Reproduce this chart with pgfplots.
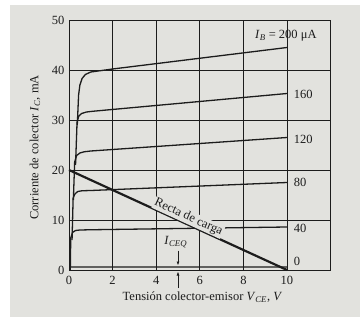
\documentclass[border=0pt]{standalone}
\usepackage{fontspec}
\setmainfont{Liberation Serif}
\usepackage{pgfplots}
\pgfplotsset{compat=1.18}
\usetikzlibrary{arrows.meta}
\definecolor{paper}{RGB}{226,226,222}
\definecolor{ink}{RGB}{28,28,28}
\tikzset{curve/.style={ink, line width=1.3pt, line join=round, mark=none}}
\begin{document}
\begin{tikzpicture}[font=\fontsize{12.5}{14}\selectfont, x=1pt, y=1pt]
\path[use as bounding box] (-69,-47) rectangle (291,270);
\fill[white] (-69,-47) rectangle (291,270);
\fill[paper] (-59,-47) rectangle (291,265);
\begin{axis}[
  at={(0,0)}, anchor=south west,
  scale only axis, width=261.6pt, height=250pt,
  xmin=0, xmax=12, ymin=0, ymax=50,
  xtick={0,2,4,6,8,10}, ytick={0,10,20,30,40,50},
  major tick length=0pt,
  grid=major,
  grid style={ink, line width=0.6pt},
  axis line style={ink, line width=0.8pt},
  /pgf/number format/assume math mode=true,
  xticklabel style={yshift=-3pt, text=ink},
  yticklabel style={xshift=-1pt, text=ink},
  every axis x label/.style={at={(axis description cs:0.51,-0.108)}, anchor=center, text=ink},
  every axis y label/.style={at={(axis description cs:-0.13,0.49)}, rotate=90, anchor=center, text=ink},
  xlabel={Tensión colector-emisor \textit{V}\textsubscript{\textit{CE}}, \textit{V}},
  ylabel={Corriente de colector \textit{I}\textsubscript{\textit{C}}, mA},
  clip=false,
]
% IB = 0
\addplot[curve] coordinates {(0.04,0) (0.05,0.6) (0.3,0.6) (10,0.6)};
% IB = 40
\addplot[curve] coordinates {(0.06,0) (0.08,6.4) (0.16,7.5) (0.3,7.9) (0.5,8.0) (1,8.05) (10,8.6)};
% IB = 80
\addplot[curve] coordinates {(0.14,6) (0.19,14.4) (0.27,15.2) (0.4,15.7) (0.6,15.85) (1,15.9) (10,17.5)};
% IB = 120
\addplot[curve] coordinates {(0.2,14) (0.26,21.6) (0.35,22.9) (0.5,23.4) (0.7,23.65) (1,23.8) (10,26.5)};
% IB = 160
\addplot[curve] coordinates {(0.3,21) (0.37,29.6) (0.45,30.8) (0.58,31.3) (0.8,31.6) (1.1,31.75) (10,35.3)};
% IB = 200
\addplot[curve] coordinates {(0.38,29) (0.44,35) (0.5,37) (0.6,38.3) (0.75,39.1) (1,39.6) (1.5,39.9) (2,40.2) (10,44.5)};
% load line
\addplot[ink, line width=2.2pt, mark=none] coordinates {(0,20) (10,0)};
\node[rotate=-24.6, anchor=south, fill=paper, inner sep=1pt, text=ink] at (axis cs:5.35,9.3) {Recta de carga};
\node[anchor=west, text=ink] at (axis cs:10.15,1.8) {0};
\node[anchor=west, text=ink] at (axis cs:10.15,8.4) {40};
\node[anchor=west, text=ink] at (axis cs:10.15,17.5) {80};
\node[anchor=west, text=ink] at (axis cs:10.15,26.2) {120};
\node[anchor=west, text=ink] at (axis cs:10.15,35.2) {160};
\node[text=ink] at (axis cs:9.95,46.9) {\textit{I}\textsubscript{\textit{B}} = 200 μA};
\node[text=ink] at (axis cs:4.9,5.6) {\textit{I}\textsubscript{\textit{CEQ}}};
\draw[ink, line width=0.8pt, -{Latex[length=4pt,width=3pt]}] (axis cs:5,3.9) -- (axis cs:5,0.9);
\draw[ink, line width=0.8pt, -{Latex[length=4pt,width=3pt]}] (axis cs:5,-3.6) -- (axis cs:5,-0.3);
\end{axis}
\end{tikzpicture}
\end{document}
